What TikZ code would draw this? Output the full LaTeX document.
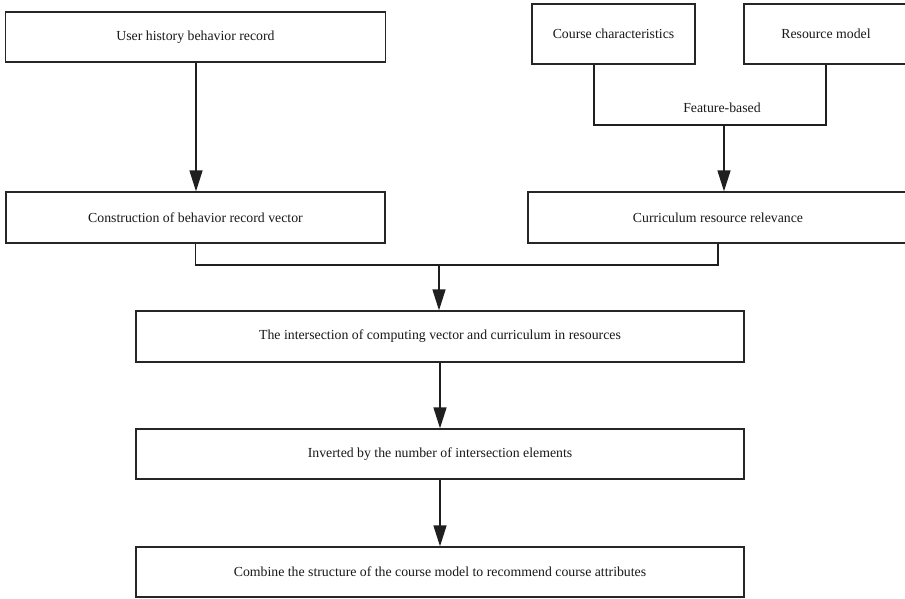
\documentclass[tikz,border=0pt]{standalone}
\usepackage{fontspec}
\setmainfont{Liberation Serif}
\usetikzlibrary{arrows.meta,calc}
\begin{document}
\begin{tikzpicture}[x=1pt,y=-1pt,
  box/.style={draw=black!85,line width=1.3pt,rectangle,inner sep=0pt,
    font=\fontsize{13.8}{16}\selectfont,text=black!90},
  conn/.style={draw=black!88,line width=1.4pt},
  arr/.style={conn,-{Triangle[width=13pt,length=21pt]}}]
\useasboundingbox (0,0) rectangle (905,598);
\fill[white] (0,0) rectangle (905,598);
% top row
\node[box,minimum width=380pt,minimum height=50pt] (b1) at (195.5,37) {User history behavior record};
\node[box,minimum width=163pt,minimum height=60pt] (cc) at (613.5,34) {Course characteristics};
\node[box,minimum width=164pt,minimum height=60pt] (rm) at (826,34) {Resource model};
% second row
\node[box,minimum width=379pt,minimum height=51pt] (b2) at (195.5,217.5) {Construction of behavior record vector};
\node[box,minimum width=380pt,minimum height=51pt] (cr) at (718,217.5) {Curriculum resource relevance};
% column
\node[box,minimum width=608pt,minimum height=51pt] (inter) at (440,336.5) {The intersection of computing vector and curriculum in resources};
\node[box,minimum width=608pt,minimum height=50pt] (inv) at (440,454) {Inverted by the number of intersection elements};
\node[box,minimum width=608pt,minimum height=50pt] (comb) at (440,572) {Combine the structure of the course model to recommend course attributes};
% junctions
\coordinate (j1) at (724,125);
\coordinate (j2) at (439,265);
\node[font=\fontsize{13.8}{16}\selectfont,text=black!90] (fb) at (722,108) {Feature-based};
% connectors
\draw[arr] ([xshift=0.5pt]b1.south) -- ([xshift=0.5pt]b2.north);
\draw[conn] ([xshift=-19.5pt]cc.south) |- (j1) -| (rm.south);
\draw[arr] (j1) -- (cr.north -| j1);
\draw[conn] (b2.south) |- (j2) -| (cr.south);
\draw[arr] (j2) -- (inter.north -| j2);
\draw[arr] (inter.south) -- (inv.north);
\draw[arr] (inv.south) -- (comb.north);
\end{tikzpicture}
\end{document}
